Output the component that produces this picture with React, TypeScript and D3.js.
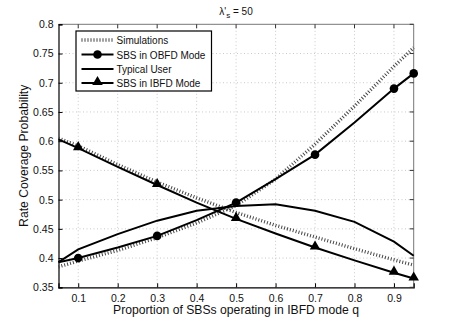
import React, { useEffect, useRef } from 'react';
import * as d3 from 'd3';

const qValues = [0.05, 0.1, 0.2, 0.3, 0.4, 0.5, 0.6, 0.7, 0.8, 0.9, 0.95];
const markerQ = [0.1, 0.3, 0.5, 0.7, 0.9, 0.95];

const obfd = [0.393, 0.4, 0.418, 0.438, 0.465, 0.495, 0.535, 0.577, 0.632, 0.69, 0.716];
const ibfd = [0.603, 0.588, 0.556, 0.525, 0.495, 0.467, 0.442, 0.418, 0.396, 0.375, 0.365];
const typicalUser = [0.393, 0.415, 0.441, 0.464, 0.481, 0.489, 0.492, 0.481, 0.462, 0.428, 0.404];
const simObfd = [0.385, 0.395, 0.413, 0.435, 0.46, 0.49, 0.535, 0.595, 0.66, 0.728, 0.76];
const simIbfd = [0.605, 0.592, 0.56, 0.53, 0.503, 0.478, 0.456, 0.436, 0.416, 0.397, 0.388];

const xTicks = [0.1, 0.2, 0.3, 0.4, 0.5, 0.6, 0.7, 0.8, 0.9];
const yTicks = [0.35, 0.4, 0.45, 0.5, 0.55, 0.6, 0.65, 0.7, 0.75, 0.8];
const legendLabels = ['Simulations', 'SBS in OBFD Mode', 'Typical User', 'SBS in IBFD Mode'];

const FONT = 'Helvetica, Arial, "Liberation Sans", sans-serif';

const App = () => {
  const svgRef = useRef<SVGSVGElement>(null);

  useEffect(() => {
    const svg = d3.select(svgRef.current);
    svg.selectAll('*').remove();

    const width = 457;
    const height = 323;
    const m = { left: 58.5, right: 43.3, top: 24.3, bottom: 35.7 };

    const x = d3.scaleLinear().domain([0.05, 0.95]).range([m.left, width - m.right]);
    const y = d3.scaleLinear().domain([0.35, 0.8]).range([height - m.bottom, m.top]);

    svg.append('rect').attr('width', width).attr('height', height).attr('fill', 'white');

    // grid
    const grid = svg.append('g').attr('stroke', '#bbb').attr('stroke-width', 0.8)
      .attr('stroke-dasharray', '1,2.5');
    xTicks.forEach(t => grid.append('line')
      .attr('x1', x(t)).attr('x2', x(t)).attr('y1', y(0.35)).attr('y2', y(0.8)));
    yTicks.slice(1, -1).forEach(t => grid.append('line')
      .attr('y1', y(t)).attr('y2', y(t)).attr('x1', x(0.05)).attr('x2', x(0.95)));

    // frame
    svg.append('line').attr('x1', x(0.05)).attr('x2', x(0.95)).attr('y1', y(0.8)).attr('y2', y(0.8))
      .attr('stroke', '#777');
    svg.append('line').attr('x1', x(0.95)).attr('x2', x(0.95)).attr('y1', y(0.35)).attr('y2', y(0.8))
      .attr('stroke', '#777');

    const xAxis = svg.append('g').attr('transform', `translate(0,${y(0.35)})`)
      .call(d3.axisBottom(x).tickValues(xTicks).tickSize(-4).tickPadding(7).tickFormat(d3.format('.1f')));
    const yAxis = svg.append('g').attr('transform', `translate(${x(0.05)},0)`)
      .call(d3.axisLeft(y).tickValues(yTicks).tickSize(-4).tickPadding(5)
        .tickFormat(d => String(+(+d).toFixed(2))));
    [xAxis, yAxis].forEach(a => {
      a.select('.domain').attr('stroke', '#000').attr('stroke-width', 1.2);
      a.selectAll('.tick line').attr('stroke', '#000');
      a.selectAll('text').attr('font-family', FONT).attr('font-size', 10.5).attr('fill', '#111');
    });
    // right/top ticks
    xTicks.forEach(t => svg.append('line').attr('x1', x(t)).attr('x2', x(t))
      .attr('y1', y(0.8)).attr('y2', y(0.8) + 4).attr('stroke', '#333'));
    yTicks.forEach(t => svg.append('line').attr('y1', y(t)).attr('y2', y(t))
      .attr('x1', x(0.95)).attr('x2', x(0.95) - 4).attr('stroke', '#333'));

    const line = d3.line<number>().x((_, i) => x(qValues[i])).y(d => y(d));
    const plot = svg.append('g');

    const drawSim = (vals: number[]) => plot.append('path').datum(vals).attr('d', line)
      .attr('fill', 'none').attr('stroke', '#444').attr('stroke-width', 3.4)
      .attr('stroke-dasharray', '1,2');
    const drawSolid = (vals: number[]) => plot.append('path').datum(vals).attr('d', line)
      .attr('fill', 'none').attr('stroke', '#000').attr('stroke-width', 2);

    drawSim(simObfd);
    drawSim(simIbfd);
    drawSolid(obfd);
    drawSolid(typicalUser);
    drawSolid(ibfd);

    const tri = d3.symbol().type(d3.symbolTriangle).size(48);
    markerQ.forEach(q => {
      const i = qValues.indexOf(q);
      plot.append('circle').attr('cx', x(q)).attr('cy', y(obfd[i])).attr('r', 4.3).attr('fill', '#000');
      plot.append('path').attr('d', tri).attr('transform', `translate(${x(q)},${y(ibfd[i]) - 1})`)
        .attr('fill', '#000');
    });

    // legend
    const lg = svg.append('g');
    lg.append('rect').attr('x', 76).attr('y', 31).attr('width', 135.5).attr('height', 60)
      .attr('fill', 'white').attr('stroke', '#000').attr('stroke-width', 1.2);
    const rowY = [40, 54.5, 69, 83];
    legendLabels.forEach((label, i) => {
      const yy = rowY[i];
      const l = lg.append('line').attr('x1', 81.5).attr('x2', 113.5).attr('y1', yy).attr('y2', yy);
      if (i === 0) {
        l.attr('stroke', '#444').attr('stroke-width', 3.4).attr('stroke-dasharray', '1,2');
      } else {
        l.attr('stroke', '#000').attr('stroke-width', 2);
      }
      if (i === 1) lg.append('circle').attr('cx', 97.5).attr('cy', yy).attr('r', 4.3).attr('fill', '#000');
      if (i === 3) lg.append('path').attr('d', tri).attr('transform', `translate(97.5,${yy - 1})`).attr('fill', '#000');
      lg.append('text').attr('x', 116.5).attr('y', yy + 4).attr('font-family', FONT)
        .attr('font-size', 10).attr('fill', '#111').text(label);
    });

    // title
    const title = svg.append('text').attr('x', 236).attr('y', 15).attr('text-anchor', 'middle')
      .attr('font-family', FONT).attr('font-size', 10).attr('fill', '#111');
    title.append('tspan').text('λ\'');
    title.append('tspan').attr('dy', 3).attr('font-size', 8).text('s');
    title.append('tspan').attr('dy', -3).text(' = 50');

    svg.append('text').attr('x', 236).attr('y', 314).attr('text-anchor', 'middle')
      .attr('font-family', FONT).attr('font-size', 12.2).attr('fill', '#111')
      .text('Proportion of SBSs operating in IBFD mode q');
    svg.append('text').attr('transform', `translate(28,${(y(0.35) + y(0.8)) / 2}) rotate(-90)`)
      .attr('text-anchor', 'middle').attr('font-family', FONT).attr('font-size', 12.2).attr('fill', '#111')
      .text('Rate Coverage Probability');
  }, []);

  return (
    <svg ref={svgRef} width={457} height={323}
      style={{ position: 'absolute', left: 0, top: 0, display: 'block' }} />
  );
};

export default App;
